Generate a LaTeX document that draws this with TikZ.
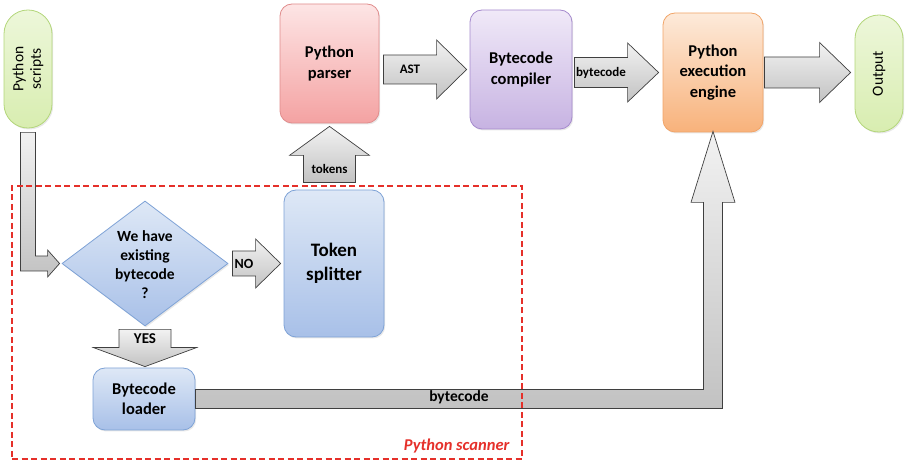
\documentclass[tikz,border=0pt]{standalone}
\usepackage{fontspec}
\setmainfont{Carlito}
\usetikzlibrary{shapes.geometric,calc,shadows}

\definecolor{arrowline}{HTML}{3F3F3F}
\definecolor{agrayT}{HTML}{F2F2F2}
\definecolor{agrayB}{HTML}{C2C2C2}
\definecolor{bluT}{HTML}{DEE8F6}
\definecolor{bluB}{HTML}{A8C0E8}
\definecolor{bluD}{HTML}{7EA2D6}
\definecolor{redT}{HTML}{FDE5E5}
\definecolor{redB}{HTML}{F4A2A2}
\definecolor{redD}{HTML}{E08C8C}
\definecolor{purT}{HTML}{F0E9F8}
\definecolor{purB}{HTML}{C7B3E2}
\definecolor{purD}{HTML}{A58ACD}
\definecolor{oraT}{HTML}{FDEADA}
\definecolor{oraB}{HTML}{F8B27B}
\definecolor{oraD}{HTML}{F1A468}
\definecolor{grnT}{HTML}{EDF7DA}
\definecolor{grnB}{HTML}{D8EDB0}
\definecolor{grnD}{HTML}{B3D67A}
\definecolor{scanred}{HTML}{E5302A}

\tikzset{
  box/.style={rectangle, rounded corners=12pt, inner sep=0pt, line width=0.8pt,
    drop shadow={opacity=0.18, shadow xshift=1.2pt, shadow yshift=-1.5pt},
    font=\bfseries\fontsize{16.5}{20.5}\selectfont, align=center},
  bluebox/.style={box, draw=bluD, top color=bluT, bottom color=bluB},
  redbox/.style={box, draw=redD, top color=redT, bottom color=redB},
  purbox/.style={box, draw=purD, top color=purT, bottom color=purB},
  orabox/.style={box, draw=oraD, top color=oraT, bottom color=oraB},
  pill/.style={rectangle, rounded corners=23.9pt, inner sep=0pt, line width=0.8pt,
    draw=grnD, top color=grnT, bottom color=grnB,
    drop shadow={opacity=0.18, shadow xshift=1.2pt, shadow yshift=-1.5pt}},
  pilltext/.style={font=\fontsize{15.5}{17.5}\selectfont, align=center, rotate=90},
  blockarrow/.style={draw=arrowline, line width=0.7pt, top color=agrayT, bottom color=agrayB},
  alabel/.style={font=\bfseries\fontsize{13}{15}\selectfont, text=black},
}

\newcommand\harrow[6]{%
  \draw[blockarrow] let \p1=(#1), \p2=(#2) in
    ({\x1},{\y1+#3pt}) -- ({\x2-#5pt},{\y1+#3pt}) -- ({\x2-#5pt},{\y1+#4pt}) -- ({\x2},{\y1})
    -- ({\x2-#5pt},{\y1-#4pt}) -- ({\x2-#5pt},{\y1-#3pt}) -- ({\x1},{\y1-#3pt}) -- cycle
    ({(\x1+\x2-#5pt)/2},{\y1}) node[alabel]{#6};}

\newcommand\varrow[6]{%
  \draw[blockarrow] let \p1=(#1), \p2=(#2) in
    ({\x1-#3pt},{\y1}) -- ({\x1-#3pt},{\y2-(#5pt)}) -- ({\x1-#4pt},{\y2-(#5pt)}) -- ({\x1},{\y2})
    -- ({\x1+#4pt},{\y2-(#5pt)}) -- ({\x1+#3pt},{\y2-(#5pt)}) -- ({\x1+#3pt},{\y1}) -- cycle
    ({\x1},{(\y1+\y2-(#5pt))/2}) node[alabel]{#6};}

\begin{document}
\begin{tikzpicture}[x=1pt,y=-1pt]
\useasboundingbox (0,0) rectangle (906,462);

% nodes
\node[pill, minimum width=48, minimum height=118] (scripts) at (28,69) {};
\node[pilltext] (scriptstext) at (scripts) {Python\\scripts};
\node[redbox, minimum width=99, minimum height=119] (parser) at (329.5,63.5) {Python\\parser};
\node[purbox, minimum width=102, minimum height=119] (compiler) at (521,69.5) {Bytecode\\compiler};
\node[orabox, minimum width=100, minimum height=119] (engine) at (713,72.5) {Python\\execution\\engine};
\node[pill, minimum width=48, minimum height=117] (output) at (879,73.5) {};
\node[pilltext] (outputtext) at (output) {Output};
\node[bluebox, minimum width=100, minimum height=147, font=\bfseries\fontsize{19}{24}\selectfont] (tsplit) at (334,263.5) {Token\\splitter};
\node[diamond, draw=bluD, line width=0.8pt, top color=bluT, bottom color=bluB, inner sep=0pt,
  minimum width=166, minimum height=125,
  drop shadow={opacity=0.18, shadow xshift=1.2pt, shadow yshift=-1.5pt}] (decide) at (145,263.5) {};
\node[font=\bfseries\fontsize{15.5}{19}\selectfont, align=center] (decidetext) at (145,265) {We have\\existing\\bytecode\\?};
\node[bluebox, minimum width=102, minimum height=62] (loader) at (144,399) {Bytecode\\loader};

% connectors
\harrow{$(parser.east |- compiler.west)+(4,0)$}{$(compiler.west)+(-3,0)$}{14.5}{29.5}{30}{AST}
\harrow{$(compiler.east |- engine.west)+(2,0)$}{$(engine.west)+(-4,0)$}{15}{29.5}{31}{bytecode}
\harrow{$(engine.east)+(1,0)$}{$(output.west)+(-4,0)$}{15.5}{30}{31}{}
\harrow{$(decide.east)+(4,0)$}{$(tsplit.west)+(-3,0)$}{12.5}{24.5}{25}{\fontsize{14}{16}\selectfont NO}
\varrow{$(parser.south |- tsplit.north)+(0,-7)$}{$(parser.south)+(0,3)$}{26}{40}{29}{tokens}
\varrow{$(decide.south)+(0,3)$}{$(loader.north)+(0,-1)$}{26}{51.5}{-19}{\fontsize{15}{17}\selectfont YES}

\draw[blockarrow] let \p1=(scripts.south), \p2=(decide.west) in
  ({\x1-7.5pt},{\y1-4pt}) -- ({\x1+7.5pt},{\y1-4pt}) -- ({\x1+7.5pt},{\y2+7.5pt})
  -- ({\x2-14pt},{\y2+7.5pt}) -- ({\x2-14pt},{\y2+13.5pt}) -- ({\x2-2pt},{\y2})
  -- ({\x2-14pt},{\y2-13.5pt}) -- ({\x2-14pt},{\y2-7.5pt}) -- ({\x1-7.5pt},{\y2-7.5pt}) -- cycle;

\draw[blockarrow] let \p1=(loader.east), \p2=(engine.south) in
  ({\x1},{\y1+9.5pt}) -- ({\x2-9.5pt},{\y1+9.5pt}) -- ({\x2-9.5pt},{\y2-70pt})
  -- ({\x2-22pt},{\y2-70pt}) -- ({\x2},{\y2+1pt}) -- ({\x2+22pt},{\y2-70pt})
  -- ({\x2+9.5pt},{\y2-70pt}) -- ({\x2+9.5pt},{\y1-9.5pt}) -- ({\x1},{\y1-9.5pt}) -- cycle;
\node[font=\bfseries\fontsize{15.5}{18}\selectfont] (bclabel) at (459,397.5) {bytecode};

% scanner frame
\node[draw=scanred, line width=1.8pt, dash pattern=on 6pt off 3.5pt, inner sep=0pt,
  minimum width=510, minimum height=273] (scanner) at (267,322.5) {};
\node[font=\bfseries\itshape\fontsize{16.5}{18}\selectfont, text=scanred, anchor=base east] (scannerlabel) at (513,451) {Python scanner};
\end{tikzpicture}
\end{document}
